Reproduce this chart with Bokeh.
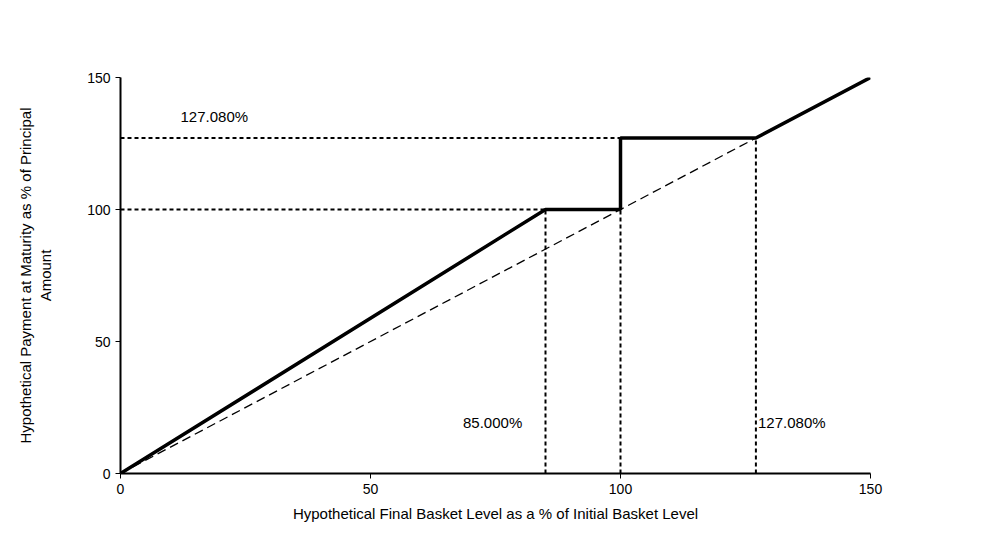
from bokeh.plotting import figure
from bokeh.models import Range1d, FixedTicker, Legend, LegendItem, Label
from bokeh.embed import file_html
from bokeh.resources import INLINE

note_x = [0, 85, 100, 100, 127.08, 150]
note_y = [0, 100, 100, 127.08, 127.08, 150]
basket_x = [0, 127.08]
basket_y = [0, 127.08]
ref_h = [(0, 85, 100), (0, 127.08, 127.08)]
ref_v = [(85, 100), (100, 100), (127.08, 127.08)]
labels = [(12, 132, "127.080%"), (68.5, 16, "85.000%"), (127.5, 16, "127.080%")]
ticks = [0, 50, 100, 150]
FONT = "Liberation Sans"

p = figure(width=976, height=537, output_backend="svg", toolbar_location=None,
           x_range=Range1d(0, 150), y_range=Range1d(0, 150),
           min_border_left=120, min_border_top=77, min_border_right=106, min_border_bottom=64)
p.outline_line_color = None
p.xgrid.visible = False
p.ygrid.visible = False
for ax in (p.xaxis[0], p.yaxis[0]):
    ax.ticker = FixedTicker(ticks=ticks)
    ax.minor_tick_line_color = None
    ax.major_tick_in = 0
    ax.major_tick_out = 5
    ax.axis_line_width = 2
    ax.major_label_text_font = FONT
    ax.major_label_text_font_size = "14px"
    ax.major_label_text_color = "black"
    ax.axis_label_text_font = FONT
    ax.axis_label_text_font_size = "15px"
    ax.axis_label_text_font_style = "normal"
    ax.axis_label_text_color = "black"
p.xaxis.axis_label = "Hypothetical Final Basket Level as a % of Initial Basket Level"
p.xaxis.axis_label_standoff = 8
p.yaxis.axis_label = "Hypothetical Payment at Maturity as % of Principal\nAmount"
p.yaxis.axis_label_standoff = 30
p.yaxis.major_label_orientation = "horizontal"

for x0, x1, y in ref_h:
    p.line([x0, x1], [y, y], line_color="black", line_width=2, line_dash="4 3")
for x, y in ref_v:
    p.line([x, x], [0, y], line_color="black", line_width=2, line_dash="4 3")

r_basket = p.line(basket_x, basket_y, line_color="black", line_width=1.3, line_dash="9 5")
r_note = p.line(note_x, note_y, line_color="black", line_width=3.5)

for x, y, t in labels:
    p.add_layout(Label(x=x, y=y, text=t, text_font=FONT, text_font_size="15px", text_color="black"))

legend = Legend(items=[LegendItem(label="Note Performance", renderers=[r_note]),
                       LegendItem(label="Basket Performance", renderers=[r_basket])],
                location=(88, 396 + 8), orientation="vertical",
                glyph_width=50, label_standoff=10, spacing=13,
                label_text_font=FONT, label_text_font_size="12px",
                border_line_color=None, background_fill_alpha=0, padding=0, margin=0)
p.add_layout(legend)

open("out.html", "w").write(file_html(p, INLINE))
